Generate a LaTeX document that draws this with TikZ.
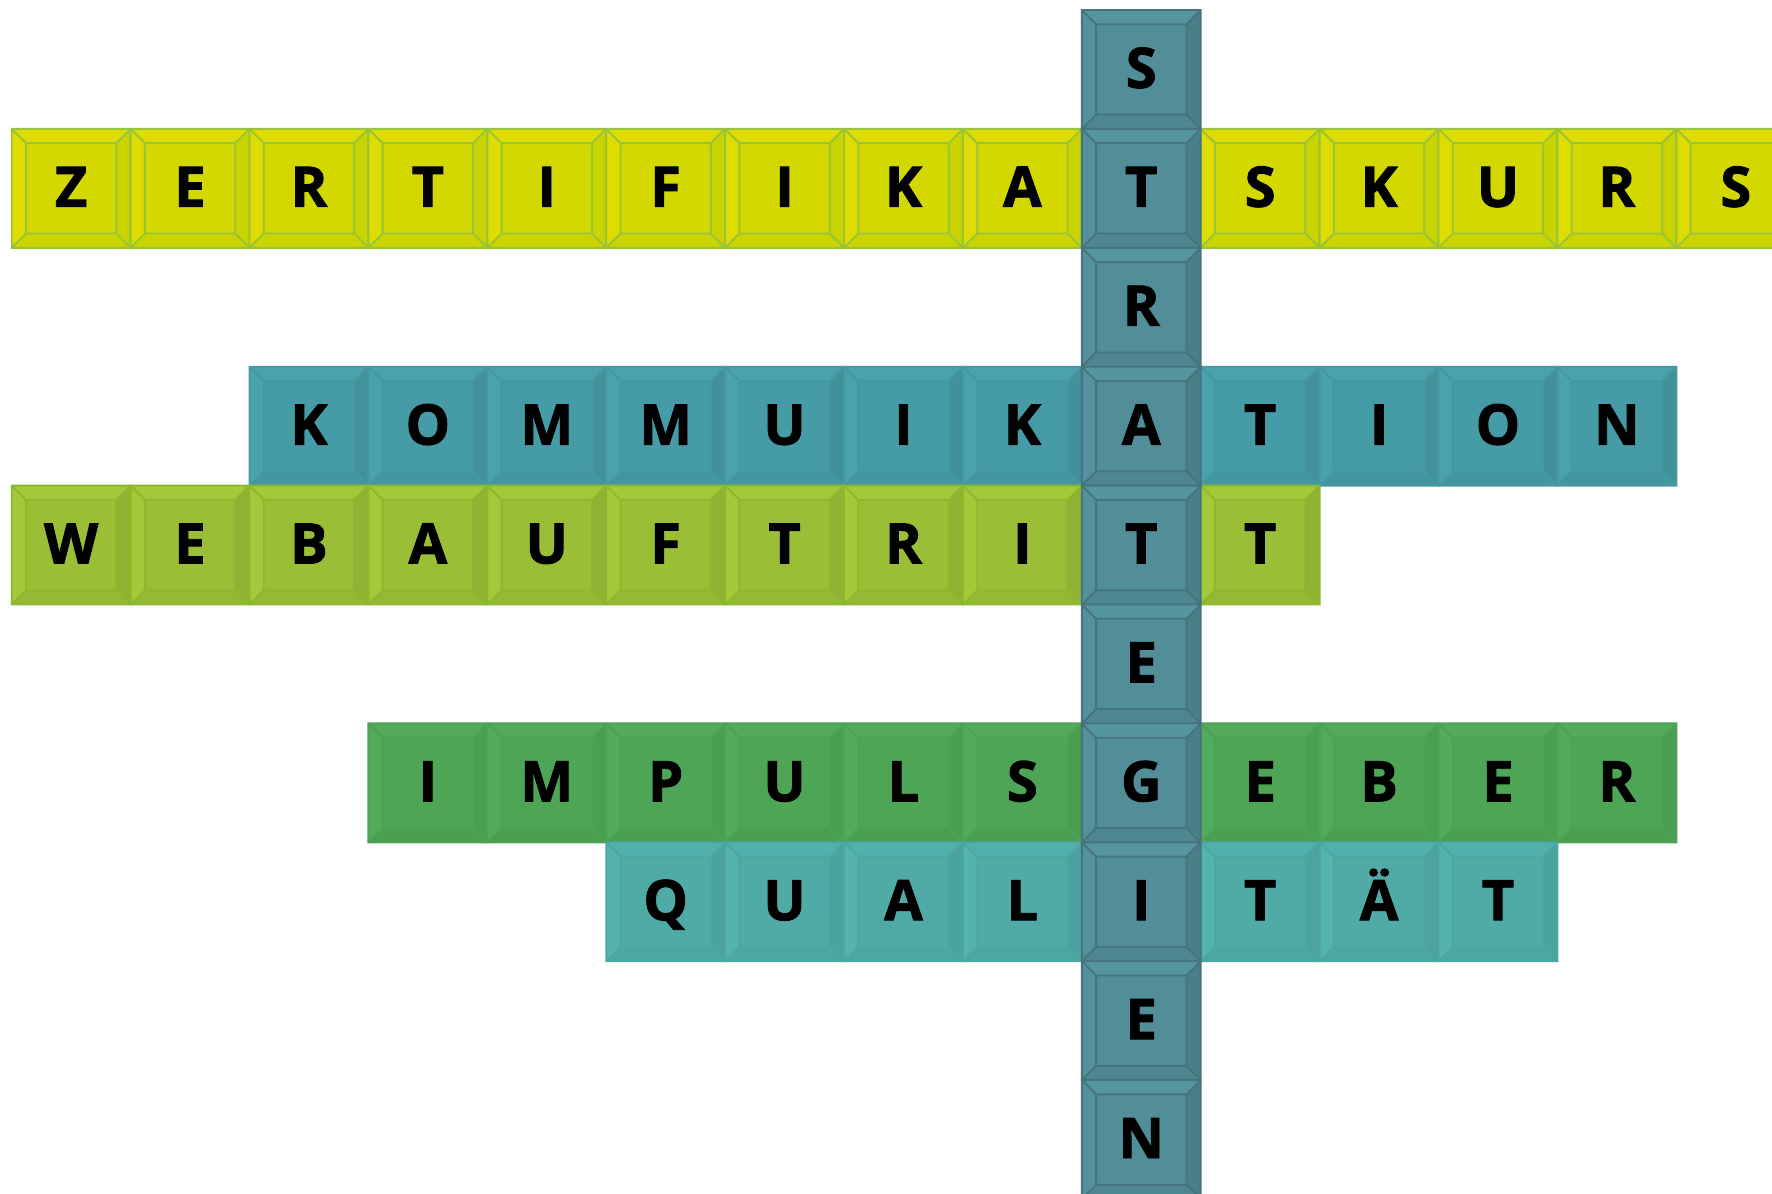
\documentclass[tikz,border=0pt]{standalone}
\usepackage{fontspec}
\setmainfont{Open Sans}[BoldFeatures={FakeBold=1.6}]

% colour sets: C centre, T top, L left, R right, B bottom, D lines
\definecolor{zkC}{HTML}{D2D800}\definecolor{zkT}{HTML}{DEDC00}\definecolor{zkL}{HTML}{DEDC00}
\definecolor{zkR}{HTML}{C8D300}\definecolor{zkB}{HTML}{CCD400}\definecolor{zkD}{HTML}{98C33A}
\definecolor{stC}{HTML}{528E98}\definecolor{stT}{HTML}{5595A0}\definecolor{stL}{HTML}{53929D}
\definecolor{stR}{HTML}{4A7F88}\definecolor{stB}{HTML}{4E8790}\definecolor{stD}{HTML}{46747E}
\definecolor{kmC}{HTML}{469CA6}\definecolor{kmT}{HTML}{4AA2AC}\definecolor{kmL}{HTML}{4AA2AC}
\definecolor{kmR}{HTML}{41909A}\definecolor{kmB}{HTML}{4395A0}\definecolor{kmD}{HTML}{4498A2}
\definecolor{wbC}{HTML}{9BBE37}\definecolor{wbT}{HTML}{A3C83A}\definecolor{wbL}{HTML}{A3C83A}
\definecolor{wbR}{HTML}{8FB335}\definecolor{wbB}{HTML}{94B836}\definecolor{wbD}{HTML}{8CB82C}
\definecolor{imC}{HTML}{4EA555}\definecolor{imT}{HTML}{52AA5A}\definecolor{imL}{HTML}{53AC5B}
\definecolor{imR}{HTML}{4A9E52}\definecolor{imB}{HTML}{4A9E52}\definecolor{imD}{HTML}{4DA355}
\definecolor{qlC}{HTML}{50AAA6}\definecolor{qlT}{HTML}{52B0AC}\definecolor{qlL}{HTML}{55B3AE}
\definecolor{qlR}{HTML}{4CA29F}\definecolor{qlB}{HTML}{4EA6A2}\definecolor{qlD}{HTML}{4CA6A2}

\newcommand{\bv}{0.12}
% \tile{col}{row}{colour set}{letter}
\newcommand{\tile}[4]{%
  \begin{scope}[shift={(#1,-#2)}]
    \fill[#3T] (0,0) -- (1,0) -- (1-\bv,-\bv) -- (\bv,-\bv) -- cycle;
    \fill[#3L] (0,0) -- (\bv,-\bv) -- (\bv,-1+\bv) -- (0,-1) -- cycle;
    \fill[#3R] (1,0) -- (1,-1) -- (1-\bv,-1+\bv) -- (1-\bv,-\bv) -- cycle;
    \fill[#3B] (0,-1) -- (1,-1) -- (1-\bv,-1+\bv) -- (\bv,-1+\bv) -- cycle;
    \fill[#3C] (\bv,-\bv) rectangle (1-\bv,-1+\bv);
    \draw[#3D,line width=0.45pt] (0,0) rectangle (1,-1) (\bv,-\bv) rectangle (1-\bv,-1+\bv)
      (0,0) -- (\bv,-\bv) (1,0) -- (1-\bv,-\bv) (0,-1) -- (\bv,-1+\bv) (1,-1) -- (1-\bv,-1+\bv);
    \node[letter] (l-#1-#2) at (0.5,-0.655) {#4};
  \end{scope}}

\begin{document}
\begin{tikzpicture}[x=1cm,y=1cm,
  letter/.style={anchor=base,inner sep=0pt,font=\fontsize{13.4}{16}\selectfont\bfseries}]
  \useasboundingbox (0,0) rectangle (14.903,-10.034);
  \clip (0,0) rectangle (14.903,-10.034);
  \begin{scope}[shift={(0.0984,-0.0841)}]
    \foreach \ch [count=\i from 0] in {Z,E,R,T,I,F,I,K,A,T,S,K,U,R,S}{\tile{\i}{1}{zk}{\ch}}
    \foreach \ch [count=\i from 2] in {K,O,M,M,U,I,K,A,T,I,O,N}{\tile{\i}{3}{km}{\ch}}
    \foreach \ch [count=\i from 0] in {W,E,B,A,U,F,T,R,I,T,T}{\tile{\i}{4}{wb}{\ch}}
    \foreach \ch [count=\i from 3] in {I,M,P,U,L,S,G,E,B,E,R}{\tile{\i}{6}{im}{\ch}}
    \foreach \ch [count=\i from 5] in {Q,U,A,L,I,T,Ä,T}{\tile{\i}{7}{ql}{\ch}}
    % vertical word on top
    \foreach \ch [count=\j from 0] in {S,T,R,A,T,E,G,I,E,N}{\tile{9}{\j}{st}{\ch}}
  \end{scope}
\end{tikzpicture}
\end{document}
